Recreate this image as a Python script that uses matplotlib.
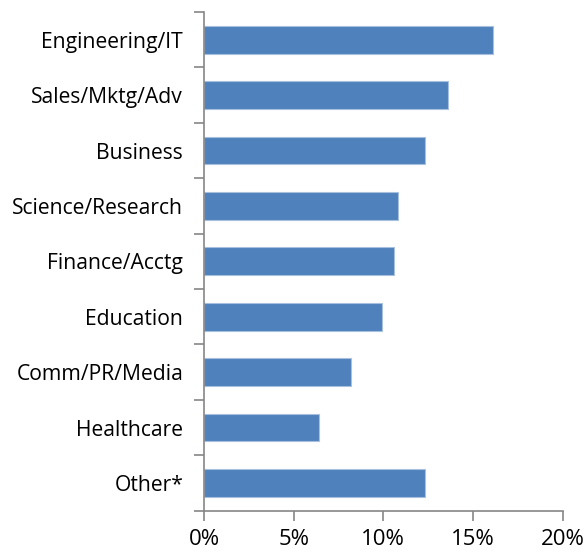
import matplotlib
matplotlib.use("Agg")
import matplotlib.pyplot as plt
import numpy as np

categories = ["Engineering/IT", "Sales/Mktg/Adv", "Business", "Science/Research",
              "Finance/Acctg", "Education", "Comm/PR/Media", "Healthcare", "Other*"]
values = [16.1, 13.6, 12.3, 10.8, 10.6, 9.9, 8.2, 6.4, 12.3]
xticks = [0, 5, 10, 15, 20]
xticklabels = ["0%", "5%", "10%", "15%", "20%"]

plt.rcParams['font.family'] = ['Open Sans', 'DejaVu Sans']

fig = plt.figure(figsize=(5.88, 5.54), dpi=100)
ax = fig.add_axes([204/588, 1-510.7/554, (562.7-204)/588, (510.7-12)/554])

n = len(categories)
ypos = np.arange(n)
ax.barh(ypos, values, height=0.5, color="#4F81BD", edgecolor="#A7C0DE", linewidth=0.8)
ax.set_ylim(n - 0.5, -0.5)
ax.set_xlim(0, 20)

ax.set_yticks(ypos)
ax.set_yticklabels(categories, fontsize=15.2)
ax.tick_params(axis='y', which='major', length=0, pad=15)
ax.set_yticks(np.arange(n + 1) - 0.5, minor=True)
ax.tick_params(axis='y', which='minor', length=7, color="#868686", width=1.2)

ax.set_xticks(xticks)
ax.set_xticklabels(xticklabels, fontsize=16)
ax.tick_params(axis='x', length=7, color="#868686", width=1.2, pad=6)

for s in ["top", "right"]:
    ax.spines[s].set_visible(False)
for s in ["left", "bottom"]:
    ax.spines[s].set_color("#868686")
    ax.spines[s].set_linewidth(1.2)

fig.savefig("out.png", dpi=100)
